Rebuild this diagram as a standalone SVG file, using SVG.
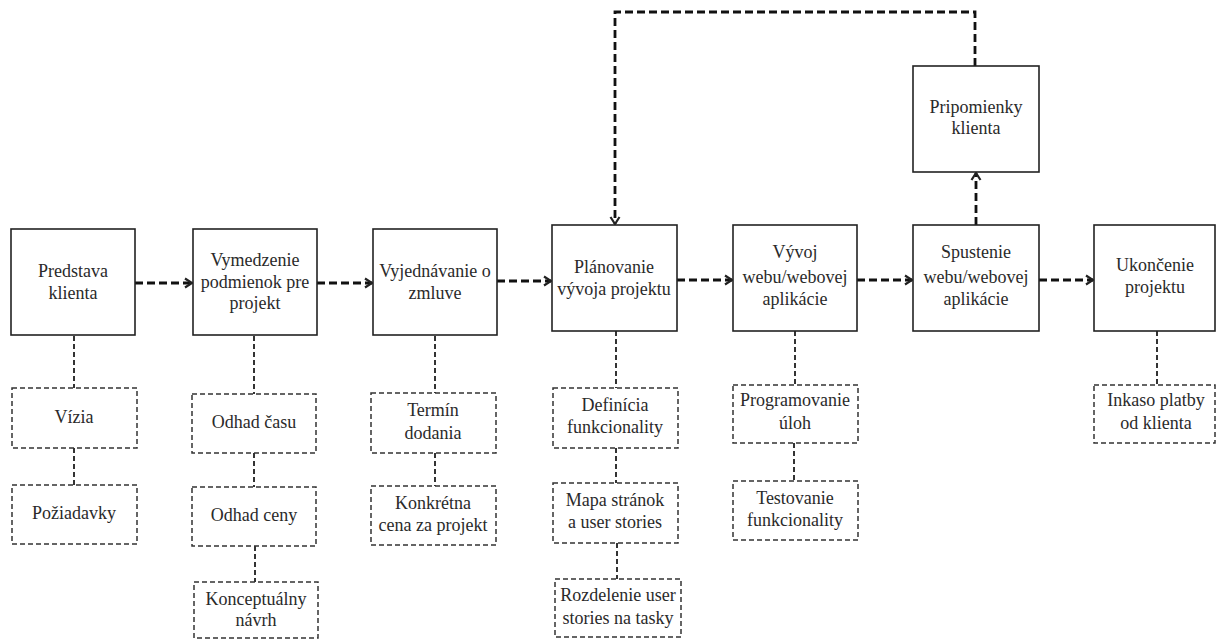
<svg xmlns="http://www.w3.org/2000/svg" width="1216" height="639" viewBox="0 0 1216 639">
<defs>
<marker id="arr" viewBox="0 0 12 12" refX="10" refY="6" markerWidth="12" markerHeight="12" markerUnits="userSpaceOnUse" orient="auto">
<path d="M3,1.5 L10,6 L3,10.5" fill="none" stroke="#222" stroke-width="2.2"/>
</marker>
</defs>
<style>
.main{fill:#fff;stroke:#222;stroke-width:1.6}
.sub{fill:#fff;stroke:#333;stroke-width:1.5;stroke-dasharray:5 3}
.flow{fill:none;stroke:#111;stroke-width:2.8;stroke-dasharray:8 4}
.link{fill:none;stroke:#333;stroke-width:2;stroke-dasharray:5 3}
text{font-size:18px}
</style>
<rect width="1216" height="639" fill="#fff"/>
<g id="connectors">
<path class="flow" d="M135,283 H192" marker-end="url(#arr)"/>
<path class="flow" d="M317,283 H372" marker-end="url(#arr)"/>
<path class="flow" d="M497,281 H551" marker-end="url(#arr)"/>
<path class="flow" d="M677,280 H732" marker-end="url(#arr)"/>
<path class="flow" d="M857,280 H912" marker-end="url(#arr)"/>
<path class="flow" d="M1039,280 H1093" marker-end="url(#arr)"/>
<path class="flow" d="M976,225 V173" marker-end="url(#arr)"/>
<path class="flow" d="M975,66 V12 H615 V224" marker-end="url(#arr)"/>
<path class="link" d="M74,336 V388 M74,448 V485"/>
<path class="link" d="M254,336 V394 M254,453 V487 M255,546 V582"/>
<path class="link" d="M435,336 V393 M435,453 V486"/>
<path class="link" d="M616,331 V388 M616,448 V483 M617,543 V579"/>
<path class="link" d="M795,331 V385 M794,443 V481"/>
<path class="link" d="M1157,331 V385"/>
</g>
<g fill="#2a2a2a" text-anchor="middle">
<g id="n1"><rect class="main" x="11" y="229" width="124" height="106"/><text font-family="Liberation Serif" x="73" y="277">Predstava</text><text font-family="Liberation Serif" x="73" y="299">klienta</text></g>
<g id="n2"><rect class="main" x="193" y="229" width="124" height="106"/><text font-family="Liberation Serif" x="255" y="266">Vymedzenie</text><text font-family="Liberation Serif" x="255" y="288">podmienok pre</text><text font-family="Liberation Serif" x="255" y="309">projekt</text></g>
<g id="n3"><rect class="main" x="373" y="229" width="124" height="106"/><text font-family="Liberation Serif" x="435" y="277">Vyjednávanie o</text><text font-family="Liberation Serif" x="435" y="299">zmluve</text></g>
<g id="n4"><rect class="main" x="552" y="225" width="125" height="106"/><text font-family="Liberation Serif" x="614" y="273">Plánovanie</text><text font-family="Liberation Serif" x="614" y="295">vývoja projektu</text></g>
<g id="n5"><rect class="main" x="733" y="225" width="124" height="106"/><text font-family="Liberation Serif" x="795" y="258">Vývoj</text><text font-family="Liberation Serif" x="795" y="283">webu/webovej</text><text font-family="Liberation Serif" x="795" y="305">aplikácie</text></g>
<g id="n6"><rect class="main" x="913" y="225" width="126" height="106"/><text font-family="Liberation Serif" x="976" y="258">Spustenie</text><text font-family="Liberation Serif" x="976" y="283">webu/webovej</text><text font-family="Liberation Serif" x="976" y="305">aplikácie</text></g>
<g id="n7"><rect class="main" x="1094" y="225" width="121" height="106"/><text font-family="Liberation Serif" x="1155" y="271">Ukončenie</text><text font-family="Liberation Serif" x="1155" y="293">projektu</text></g>
<g id="n8"><rect class="main" x="913" y="66" width="126" height="106"/><text font-family="Liberation Serif" x="976" y="113">Pripomienky</text><text font-family="Liberation Serif" x="976" y="134">klienta</text></g>
<g id="s1a"><rect class="sub" x="12" y="388" width="125" height="60"/><text font-family="Liberation Serif" x="74" y="423">Vízia</text></g>
<g id="s1b"><rect class="sub" x="12" y="485" width="125" height="59"/><text font-family="Liberation Serif" x="74" y="519">Požiadavky</text></g>
<g id="s2a"><rect class="sub" x="192" y="394" width="124" height="59"/><text font-family="Liberation Serif" x="254" y="428">Odhad času</text></g>
<g id="s2b"><rect class="sub" x="192" y="487" width="124" height="59"/><text font-family="Liberation Serif" x="254" y="521">Odhad ceny</text></g>
<g id="s2c"><rect class="sub" x="194" y="582" width="124" height="56"/><text font-family="Liberation Serif" x="256" y="605">Konceptuálny</text><text font-family="Liberation Serif" x="256" y="626">návrh</text></g>
<g id="s3a"><rect class="sub" x="371" y="393" width="125" height="60"/><text font-family="Liberation Serif" x="433" y="416">Termín</text><text font-family="Liberation Serif" x="433" y="439">dodania</text></g>
<g id="s3b"><rect class="sub" x="371" y="486" width="125" height="59"/><text font-family="Liberation Serif" x="433" y="509">Konkrétna</text><text font-family="Liberation Serif" x="433" y="531">cena za projekt</text></g>
<g id="s4a"><rect class="sub" x="553" y="388" width="125" height="60"/><text font-family="Liberation Serif" x="615" y="411">Definícia</text><text font-family="Liberation Serif" x="615" y="433">funkcionality</text></g>
<g id="s4b"><rect class="sub" x="553" y="483" width="125" height="60"/><text font-family="Liberation Serif" x="615" y="506">Mapa stránok</text><text font-family="Liberation Serif" x="615" y="528">a user stories</text></g>
<g id="s4c"><rect class="sub" x="555" y="579" width="126" height="58"/><text font-family="Liberation Serif" x="618" y="601">Rozdelenie user</text><text font-family="Liberation Serif" x="618" y="624">stories na tasky</text></g>
<g id="s5a"><rect class="sub" x="733" y="385" width="125" height="58"/><text font-family="Liberation Serif" x="795" y="406">Programovanie</text><text font-family="Liberation Serif" x="795" y="429">úloh</text></g>
<g id="s5b"><rect class="sub" x="733" y="481" width="125" height="59"/><text font-family="Liberation Serif" x="795" y="504">Testovanie</text><text font-family="Liberation Serif" x="795" y="526">funkcionality</text></g>
<g id="s7a"><rect class="sub" x="1094" y="385" width="121" height="58"/><text font-family="Liberation Serif" x="1156" y="406">Inkaso platby</text><text font-family="Liberation Serif" x="1156" y="429">od klienta</text></g>
</g>
</svg>
